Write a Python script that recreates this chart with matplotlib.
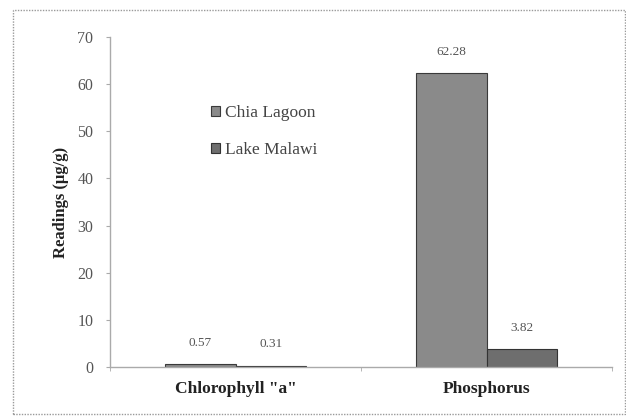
import matplotlib
matplotlib.use("Agg")
import matplotlib.pyplot as plt
import numpy as np
from matplotlib.patches import Rectangle

categories = ['Chlorophyll "a"', 'Phosphorus']
series_names = ['Chia Lagoon', 'Lake Malawi']
chia = [0.57, 62.28]
malawi = [0.31, 3.82]
yticks = [0, 10, 20, 30, 40, 50, 60, 70]

plt.rcParams['font.family'] = ['Liberation Serif', 'DejaVu Serif']

fig = plt.figure(figsize=(6.26, 4.16), dpi=100)
fig.patch.set_facecolor('white')
# outer dotted border
fig.add_artist(Rectangle((13/626, 0.005), 1 - 13/626 - 0.002, 1 - 10/416 - 0.005,
                         transform=fig.transFigure, fill=False,
                         edgecolor='#9a9a9a', linestyle=(0, (1, 1)), linewidth=1.0))

ax = fig.add_axes([110/626, 1 - 367/416, (612 - 110)/626, (367 - 37)/416])
x = np.arange(len(categories))
w = 0.28
colors = ['#8a8a8a', '#6e6e6e']
edges = ['#3a3a3a', '#333333']
for i, (vals, name) in enumerate(zip([chia, malawi], series_names)):
    pos = x + (i - 0.5) * w
    bars = ax.bar(pos, vals, w, color=colors[i], edgecolor=edges[i], linewidth=0.8, label=name)
    for b, v in zip(bars, vals):
        ax.text(b.get_x() + b.get_width() / 2, v + 4.5, f"{v:.2f}",
                ha='center', va='center', fontsize=9.5, color='#555555')

ax.set_xlim(-0.5, 1.5)
ax.set_ylim(0, 70)
ax.set_yticks(yticks)
ax.set_yticklabels([str(t) for t in yticks], fontsize=11.5, color='#555555')
ax.set_xticks(x)
ax.set_xticklabels(categories, fontsize=12.5, fontweight='bold', color='#222222')
ax.tick_params(axis='x', length=0, pad=10)
ax.tick_params(axis='y', length=3, color='#aaaaaa', pad=9)
ax.set_xticks([-0.5, 0.5, 1.5], minor=True)
ax.tick_params(axis='x', which='minor', length=3, color='#aaaaaa')
for s in ['top', 'right']:
    ax.spines[s].set_visible(False)
for s in ['left', 'bottom']:
    ax.spines[s].set_color('#aaaaaa')
    ax.spines[s].set_linewidth(1.0)
ax.set_ylabel('Readings (µg/g)', fontsize=12, fontweight='bold', color='#222222', labelpad=6)

ax.legend(loc='upper left', bbox_to_anchor=(0.17, 0.84), frameon=False, fontsize=12.5,
          handlelength=0.5, handleheight=0.5, handletextpad=0.3, labelspacing=1.2,
          labelcolor='#444444')

fig.savefig('out.png', dpi=100, facecolor='white')
